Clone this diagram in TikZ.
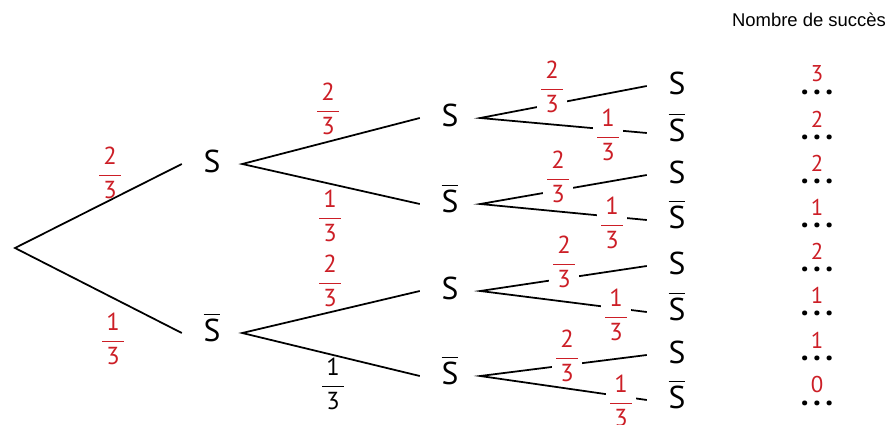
\documentclass[tikz,border=0pt]{standalone}
\usepackage{fontspec}
\usepackage{amsmath}
\setmainfont{PT Sans}
\newfontfamily\headfont{Liberation Sans}
\definecolor{probred}{RGB}{204,30,38}
\newcommand{\frc}[2]{$\dfrac{\,\text{#1}\,}{\,\text{#2}\,}$}
\newcommand{\nS}{$\overline{\text{S}}$}
\newcommand{\trio}{.\kern2.5pt.\kern2.5pt.}

\begin{document}
\begin{tikzpicture}[x=0.02cm, y=-0.02cm,
    event/.style={font=\fontsize{18}{20}\selectfont, inner sep=0pt, minimum width=34pt, text height=14pt, text depth=4.8pt},
    branch/.style={line width=1pt},
    prob/.style={font=\fontsize{14}{16}\selectfont, text=probred, inner sep=1pt},
    cut/.style={prob, fill=white},
    count/.style={font=\fontsize{13}{14}\selectfont, text=probred, inner sep=0pt},
    dots/.style={font=\fontsize{18}{20}\selectfont\bfseries, inner sep=0pt, text height=2.5pt, text depth=0pt}]
      \useasboundingbox (0,0) rectangle (888,425);
      \node[font=\headfont\fontsize{10.5}{12}\selectfont] (title) at (809,20) {Nombre de succès};
      % tree
      \coordinate (root) at (15,248);
      \node[event] (s)  at (212,164) {S};
      \node[event] (sb) at (212,333) {\nS};
      \node[event] (ss)   at (450,118) {S};
      \node[event] (ssb)  at (450,204) {\nS};
      \node[event] (sbs)  at (450,291) {S};
      \node[event] (sbsb) at (450,376) {\nS};
      \node[event] (sss)    at (677,86)  {S};
      \node[event] (sssb)   at (677,133) {\nS};
      \node[event] (ssbs)   at (677,175) {S};
      \node[event] (ssbsb)  at (677,220) {\nS};
      \node[event] (sbss)   at (677,266) {S};
      \node[event] (sbssb)  at (677,312) {\nS};
      \node[event] (sbsbs)  at (677,355) {S};
      \node[event] (sbsbsb) at (677,400) {\nS};
      \draw[branch] (s.west) -- (root) -- (sb.west);
      \draw[branch] (ss.west) -- (s.east) -- (ssb.west);
      \draw[branch] (sbs.west) -- (sb.east) -- (sbsb.west);
      \draw[branch] (sss.west) -- (ss.east) -- (sssb.west);
      \draw[branch] (ssbs.west) -- (ssb.east) -- (ssbsb.west);
      \draw[branch] (sbss.west) -- (sbs.east) -- (sbssb.west);
      \draw[branch] (sbsbs.west) -- (sbsb.east) -- (sbsbsb.west);
      % probabilities
      \node[prob] (p1) at (110,173) {\frc{2}{3}};
      \node[prob] (p2) at (113,339) {\frc{1}{3}};
      \node[prob] (p3) at (328,109) {\frc{2}{3}};
      \node[prob] (p4) at (330,216) {\frc{1}{3}};
      \node[prob] (p5) at (330,281) {\frc{2}{3}};
      \node[prob, text=black] (p6) at (333,384) {\frc{1}{3}};
      \node[cut] (p7)  at (552,87)  {\frc{2}{3}};
      \node[cut] (p8)  at (608,135) {\frc{1}{3}};
      \node[cut] (p9)  at (558,177) {\frc{2}{3}};
      \node[cut] (p10) at (612,223) {\frc{1}{3}};
      \node[cut] (p11) at (564,262) {\frc{2}{3}};
      \node[cut] (p12) at (616,315) {\frc{1}{3}};
      \node[cut] (p13) at (567,356) {\frc{2}{3}};
      \node[cut] (p14) at (621,401) {\frc{1}{3}};
      % number of successes
      \foreach \n/\y/\k in {1/92/3, 2/137/2, 3/181/2, 4/225/1, 5/269/2, 6/313/1, 7/358/1, 8/403/0} {
        \node[dots] (d\n) at (817,\y) {\trio};
        \node[count] (k\n) at (817,\y-18) {\k};
      }
\end{tikzpicture}
\end{document}
